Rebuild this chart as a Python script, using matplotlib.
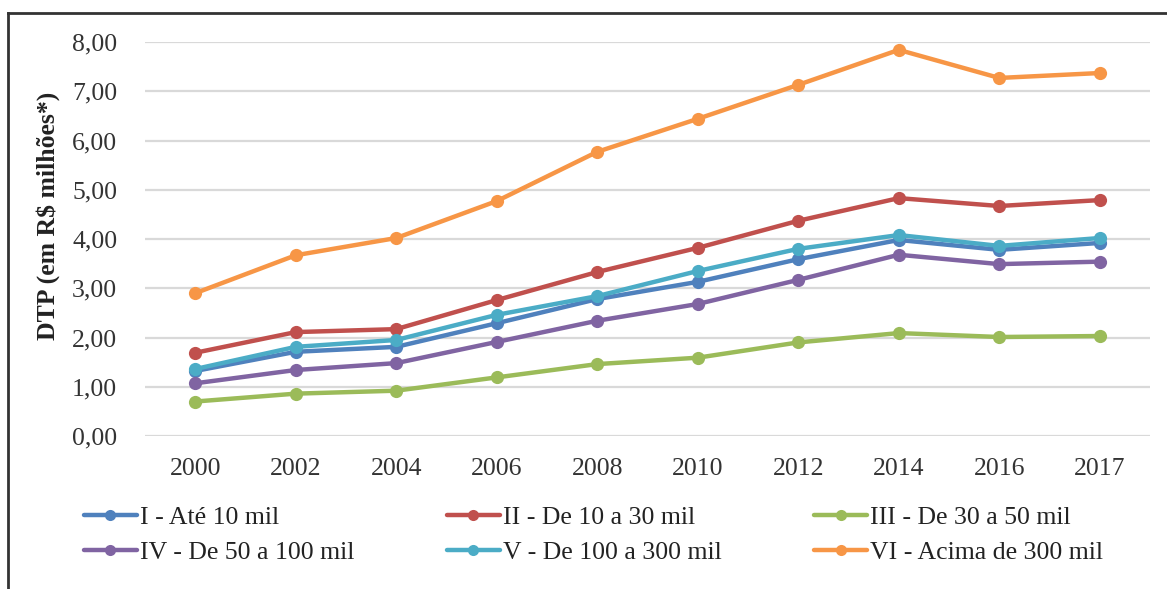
import matplotlib
matplotlib.use("Agg")
import matplotlib.pyplot as plt
from matplotlib.lines import Line2D
from matplotlib.ticker import FuncFormatter

years = ["2000", "2002", "2004", "2006", "2008", "2010", "2012", "2014", "2016", "2017"]

serie_I = [1.32, 1.71, 1.81, 2.29, 2.78, 3.13, 3.59, 3.98, 3.78, 3.92]
serie_II = [1.69, 2.11, 2.17, 2.76, 3.33, 3.82, 4.37, 4.83, 4.67, 4.79]
serie_III = [0.70, 0.86, 0.92, 1.19, 1.46, 1.59, 1.90, 2.09, 2.01, 2.03]
serie_IV = [1.07, 1.34, 1.48, 1.91, 2.34, 2.68, 3.17, 3.68, 3.49, 3.54]
serie_V = [1.36, 1.81, 1.95, 2.46, 2.84, 3.35, 3.80, 4.08, 3.86, 4.02]
serie_VI = [2.90, 3.67, 4.02, 4.77, 5.77, 6.44, 7.13, 7.84, 7.27, 7.37]

labels = ["I - Até 10 mil", "II - De 10 a 30 mil", "III - De 30 a 50 mil",
          "IV - De 50 a 100 mil", "V - De 100 a 300 mil", "VI - Acima de 300 mil"]
colors = ["#4F81BD", "#C0504D", "#9BBB59", "#8064A2", "#4BACC6", "#F79646"]
series = [serie_I, serie_II, serie_III, serie_IV, serie_V, serie_VI]

plt.rcParams["font.family"] = ["Liberation Serif", "DejaVu Serif"]

fig = plt.figure(figsize=(11.67, 5.89), dpi=100)
ax = fig.add_axes([145 / 1167, 1 - 436 / 589, 1005 / 1167, 394 / 589])

x = list(range(len(years)))
handles = []
for vals, lab, col in zip(series, labels, colors):
    h, = ax.plot(x, vals, color=col, lw=3.2, marker="o", ms=9.5,
                 markeredgewidth=0, label=lab, solid_capstyle="round")
    handles.append(h)

ax.set_xlim(-0.5, len(years) - 0.5)
ax.set_ylim(0, 8)
ax.set_yticks([0, 1, 2, 3, 4, 5, 6, 7, 8])
ax.yaxis.set_major_formatter(FuncFormatter(lambda v, p: f"{v:.2f}".replace(".", ",")))
ax.set_xticks(x)
ax.set_xticklabels(years)
ax.tick_params(axis="both", length=0, labelsize=18.5, colors="#333333")
ax.tick_params(axis="y", pad=20)
ax.tick_params(axis="x", pad=16)
ax.grid(axis="y", color="#D9D9D9", lw=1.6)
ax.set_axisbelow(True)
for s in ax.spines.values():
    s.set_visible(False)

fig.text(48 / 1167, 1 - 216 / 589, "DTP (em R$ milhões*)", rotation=90,
         fontsize=18.5, fontweight="bold", ha="center", va="center", color="#222222")

# legend laid out row by row: I, II, III / IV, V, VI
order = [0, 3, 1, 4, 2, 5]
leg = fig.legend([handles[i] for i in order], [labels[i] for i in order],
                 ncol=3, loc="upper left", bbox_to_anchor=(84 / 1167, 1 - 506 / 589),
                 frameon=False, fontsize=18.5, handlelength=2.06, handletextpad=0.12,
                 columnspacing=3.6, labelspacing=0.45, borderaxespad=0, borderpad=0)
for t in leg.get_texts():
    t.set_color("#222222")
for lh in leg.legend_handles:
    lh.set_markersize(8)

# outer frame (left and top edges)
fig.add_artist(Line2D([8 / 1167, 8 / 1167], [0, 1 - 13 / 589], color="#333333", lw=2))
fig.add_artist(Line2D([8 / 1167, 1], [1 - 13 / 589, 1 - 13 / 589], color="#333333", lw=2))

fig.savefig("out.png", dpi=100, facecolor="white")
